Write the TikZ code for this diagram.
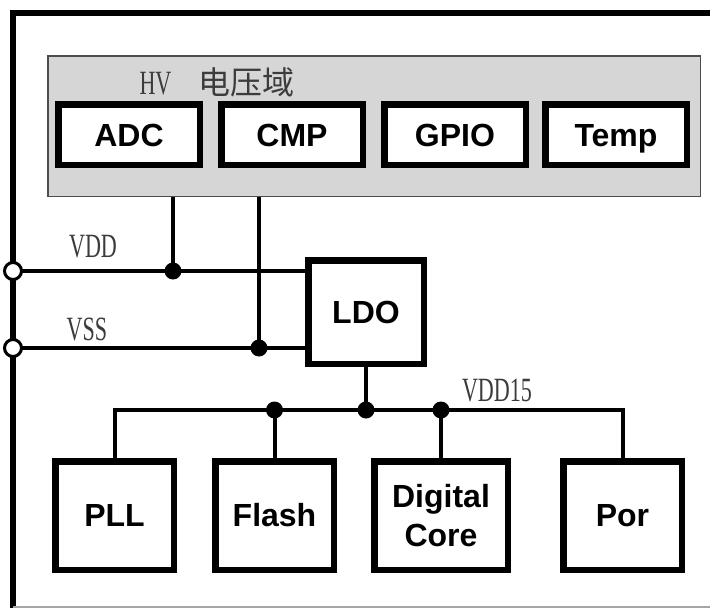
\documentclass[tikz,border=0pt]{standalone}
\usepackage{fontspec}
\setsansfont{Liberation Sans}
\newfontfamily\narrowserif[FakeStretch=0.65]{Liberation Serif}
\newfontfamily\cjk{Noto Sans CJK SC}
\usepackage{xcolor}
\usetikzlibrary{positioning}
\definecolor{hvgray}{RGB}{214,214,214}
\definecolor{labelgray}{RGB}{60,60,60}

\begin{document}
\begin{tikzpicture}[x=1pt, y=-1pt,
  block/.style={draw, line width=6.5pt, fill=white, align=center, inner sep=0pt, font=\sffamily\bfseries\fontsize{32}{39}\selectfont},
  topblk/.style={block, minimum width=141.5pt, minimum height=60.5pt, text height=23pt, text depth=0pt},
  botblk/.style={block, minimum width=118.5pt, minimum height=108.5pt},
  hvregion/.style={draw=black!70, line width=1.5pt, fill=hvgray, minimum width=652.5pt, minimum height=140.5pt},
  netlabel/.style={inner sep=0pt, text=labelgray, font=\narrowserif\fontsize{34}{40}\selectfont},
  wire/.style={line width=4pt},
  frame/.style={line width=6pt},
  port/.style={circle, draw, line width=3pt, fill=white, minimum size=17pt, inner sep=0pt},
  junction/.style={circle, fill, minimum size=17pt, inner sep=0pt}
]
\useasboundingbox (0,0) rectangle (710,608);

% chip outline
\draw[frame] (13,615) -- (13,13) -- (715,13);
\draw[black!35, line width=1.5pt] (13,607) -- (710,607);

% HV domain
\node[hvregion] (hv) at (374,126) {};
\node[netlabel] (hvlabel) at (217,82) {HV\hspace{27pt}{\cjk\fontsize{32}{40}\selectfont 电压域}};
\node[topblk] (adc) at (129,134.5) {ADC};
\node[topblk, right=15pt of adc] (cmp) {CMP};
\node[topblk, right=15pt of cmp] (gpio) {GPIO};
\node[topblk, right=13pt of gpio] (temp) {Temp};

% supply pins and LDO
\node[block, minimum width=115.5pt, minimum height=103.5pt] (ldo) at (366,312) {LDO};
\coordinate (jvdd) at (173,271);
\coordinate (jvss) at (259,348);
\node[netlabel] (vddlbl) at (93,247) {VDD};
\node[netlabel] (vsslbl) at (87,329) {VSS};

\draw[wire] (13,271) -- (jvdd) -- (jvdd -| ldo.west);
\draw[wire] (13,348) -- (jvss) -- (jvss -| ldo.west);
\draw[wire] (jvdd |- hv.south) -- (jvdd);
\draw[wire] (jvss |- hv.south) -- (jvss);
\node[port] (pvdd) at (13,271) {};
\node[port] (pvss) at (13,348) {};

% 1.5V domain
\node[botblk] (pll) at (114.5,515.5) {PLL};
\node[botblk, right=35pt of pll] (flash) {Flash};
\node[botblk, minimum width=133.5pt, right=34pt of flash] (dc) {Digital\\Core};
\node[botblk, right=49pt of dc] (por) {Por};
\coordinate (bus) at (ldo.south |- 0,410);
\node[netlabel] (vdd15lbl) at (497,391) {VDD15};

\draw[wire] (ldo.south) -- (bus);
\draw[wire] (pll.north) -- (pll.north |- bus) -- (por.north |- bus) -- (por.north);
\draw[wire] (flash.north |- bus) -- (flash.north);
\draw[wire] (dc.north |- bus) -- (dc.north);

\node[junction] (dvdd) at (jvdd) {};
\node[junction] (dvss) at (jvss) {};
\node[junction] (dbus) at (bus) {};
\node[junction] (dflash) at (flash.north |- bus) {};
\node[junction] (ddc) at (dc.north |- bus) {};
\end{tikzpicture}
\end{document}
